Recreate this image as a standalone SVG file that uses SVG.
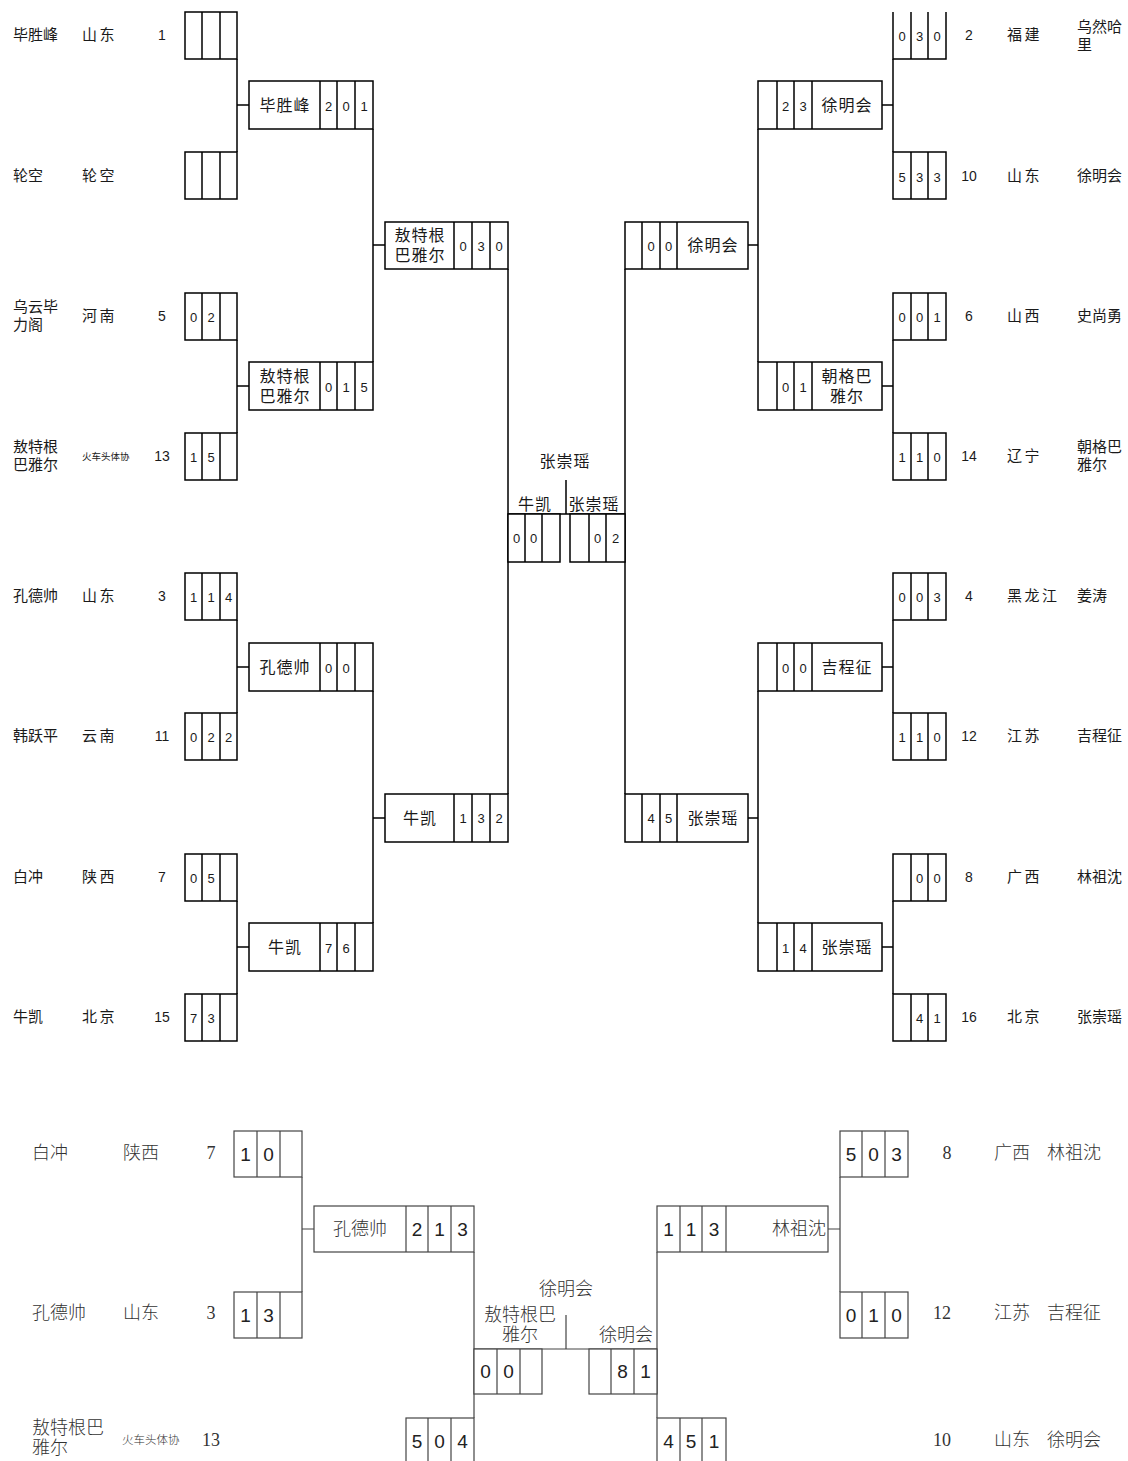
<svg xmlns="http://www.w3.org/2000/svg" width="1128" height="1461" viewBox="0 0 1128 1461">
<style>
.bx{fill:#fff;stroke:#000;stroke-width:1.5}
.dv{fill:none;stroke:#000;stroke-width:1.5}
.ln{fill:none;stroke:#000;stroke-width:1.5}
.t{font-family:"Noto Sans CJK SC","Liberation Sans",sans-serif;fill:#1a1a1a}
.nm{font-size:15px}
.pv{font-size:15px;letter-spacing:2.5px}
.sm{font-size:9.5px}
.rn{font-size:16px;letter-spacing:1px;text-anchor:middle}
.sd{font-family:"Liberation Sans",sans-serif;font-size:14px;text-anchor:middle;fill:#1a1a1a}
.dg{font-family:"Liberation Sans",sans-serif;font-size:13px;text-anchor:middle;fill:#1a1a1a}
.bx2{fill:#fff;stroke:#444;stroke-width:1.2}
.dv2{fill:none;stroke:#444;stroke-width:1.2}
.ln2{fill:none;stroke:#444;stroke-width:1.2}
.t2{font-family:"Liberation Serif","Noto Sans CJK SC",serif;font-size:18px;fill:#333;font-weight:300}
.sm2{font-size:11.5px}
.mid{text-anchor:middle}
.end{text-anchor:end}
.sd2{font-family:"Liberation Serif",serif;font-size:18px;fill:#333}
.dg2{font-family:"Liberation Sans",sans-serif;font-size:19px;text-anchor:middle;fill:#222}
</style>

<g id="connectors">
<path class="ln" d="M237 59V152M237 105H249M237 340V433M237 386H249M237 620V713M237 667H249M237 901V994M237 947H249"/>
<path class="ln" d="M373 129V362M373 245H385M373 691V923M373 818H385"/>
<path class="ln" d="M508 269V794M625 269V794M508 514H625M566 480V514"/>
<path class="ln" d="M893 59V152M882 105H893M893 340V433M882 386H893M893 620V713M882 667H893M893 901V994M882 947H893"/>
<path class="ln" d="M758 129V362M748 245H758M758 691V923M748 818H758"/>
<path class="ln2" d="M302 1177V1292M302 1229H314M474 1252V1418M657 1252V1418M474 1349H657M566 1315V1349M840 1177V1292M828 1229H840"/>
</g>

<!-- top-left round 1 -->
<g id="L1-1"><rect class="bx" x="185" y="12" width="52" height="47"/><path class="dv" d="M202 12V59M220 12V59"/>
<text class="t nm" x="13" y="40">毕胜峰</text><text class="t pv" x="82" y="40">山东</text><text class="sd" x="162" y="40">1</text></g>
<g id="L1-2"><rect class="bx" x="185" y="152" width="52" height="47"/><path class="dv" d="M202 152V199M220 152V199"/>
<text class="t nm" x="13" y="181">轮空</text><text class="t pv" x="82" y="181">轮空</text></g>
<g id="L1-3"><rect class="bx" x="185" y="293" width="52" height="47"/><path class="dv" d="M202 293V340M220 293V340"/>
<text class="t nm" x="13" y="312">乌云毕</text><text class="t nm" x="13" y="330">力阁</text><text class="t pv" x="82" y="321">河南</text><text class="sd" x="162" y="321">5</text>
<text class="dg" x="193.5" y="321.5">0</text><text class="dg" x="211" y="321.5">2</text></g>
<g id="L1-4"><rect class="bx" x="185" y="433" width="52" height="47"/><path class="dv" d="M202 433V480M220 433V480"/>
<text class="t nm" x="13" y="452">敖特根</text><text class="t nm" x="13" y="470">巴雅尔</text><text class="t sm" x="82" y="460">火车头体协</text><text class="sd" x="162" y="461">13</text>
<text class="dg" x="193.5" y="461.5">1</text><text class="dg" x="211" y="461.5">5</text></g>
<g id="L1-5"><rect class="bx" x="185" y="573" width="52" height="47"/><path class="dv" d="M202 573V620M220 573V620"/>
<text class="t nm" x="13" y="601">孔德帅</text><text class="t pv" x="82" y="601">山东</text><text class="sd" x="162" y="601">3</text>
<text class="dg" x="193.5" y="601.5">1</text><text class="dg" x="211" y="601.5">1</text><text class="dg" x="228.5" y="601.5">4</text></g>
<g id="L1-6"><rect class="bx" x="185" y="713" width="52" height="47"/><path class="dv" d="M202 713V760M220 713V760"/>
<text class="t nm" x="13" y="741">韩跃平</text><text class="t pv" x="82" y="741">云南</text><text class="sd" x="162" y="741">11</text>
<text class="dg" x="193.5" y="741.5">0</text><text class="dg" x="211" y="741.5">2</text><text class="dg" x="228.5" y="741.5">2</text></g>
<g id="L1-7"><rect class="bx" x="185" y="854" width="52" height="47"/><path class="dv" d="M202 854V901M220 854V901"/>
<text class="t nm" x="13" y="882">白冲</text><text class="t pv" x="82" y="882">陕西</text><text class="sd" x="162" y="882">7</text>
<text class="dg" x="193.5" y="882.5">0</text><text class="dg" x="211" y="882.5">5</text></g>
<g id="L1-8"><rect class="bx" x="185" y="994" width="52" height="47"/><path class="dv" d="M202 994V1041M220 994V1041"/>
<text class="t nm" x="13" y="1022">牛凯</text><text class="t pv" x="82" y="1022">北京</text><text class="sd" x="162" y="1022">15</text>
<text class="dg" x="193.5" y="1022.5">7</text><text class="dg" x="211" y="1022.5">3</text></g>

<!-- top-left round 2 -->
<g id="L2-1"><rect class="bx" x="249" y="81" width="124" height="48"/><path class="dv" d="M320 81V129M337 81V129M355 81V129"/>
<text class="t rn" x="285" y="111">毕胜峰</text><text class="dg" x="328.5" y="110.5">2</text><text class="dg" x="346" y="110.5">0</text><text class="dg" x="364" y="110.5">1</text></g>
<g id="L2-2"><rect class="bx" x="249" y="362" width="124" height="48"/><path class="dv" d="M320 362V410M337 362V410M355 362V410"/>
<text class="t rn" x="285" y="381.5">敖特根</text><text class="t rn" x="285" y="401.5">巴雅尔</text><text class="dg" x="328.5" y="391.5">0</text><text class="dg" x="346" y="391.5">1</text><text class="dg" x="364" y="391.5">5</text></g>
<g id="L2-3"><rect class="bx" x="249" y="643" width="124" height="48"/><path class="dv" d="M320 643V691M337 643V691M355 643V691"/>
<text class="t rn" x="285" y="673">孔德帅</text><text class="dg" x="328.5" y="672.5">0</text><text class="dg" x="346" y="672.5">0</text></g>
<g id="L2-4"><rect class="bx" x="249" y="923" width="124" height="48"/><path class="dv" d="M320 923V971M337 923V971M355 923V971"/>
<text class="t rn" x="285" y="953">牛凯</text><text class="dg" x="328.5" y="952.5">7</text><text class="dg" x="346" y="952.5">6</text></g>

<!-- top-left round 3 -->
<g id="L3-1"><rect class="bx" x="385" y="222" width="123" height="47"/><path class="dv" d="M454 222V269M472 222V269M490 222V269"/>
<text class="t rn" x="420" y="241">敖特根</text><text class="t rn" x="420" y="261">巴雅尔</text><text class="dg" x="463" y="250.5">0</text><text class="dg" x="481" y="250.5">3</text><text class="dg" x="499" y="250.5">0</text></g>
<g id="L3-2"><rect class="bx" x="385" y="794" width="123" height="48"/><path class="dv" d="M454 794V842M472 794V842M490 794V842"/>
<text class="t rn" x="420" y="824">牛凯</text><text class="dg" x="463" y="822.5">1</text><text class="dg" x="481" y="822.5">3</text><text class="dg" x="499" y="822.5">2</text></g>

<!-- top final -->
<g id="final-top">
<rect class="bx" x="508" y="514" width="52" height="48"/><path class="dv" d="M525 514V562M542 514V562"/>
<rect class="bx" x="570" y="514" width="55" height="48"/><path class="dv" d="M589 514V562M606 514V562"/>
<text class="dg" x="516.5" y="542.5">0</text><text class="dg" x="533.5" y="542.5">0</text>
<text class="dg" x="597.5" y="542.5">0</text><text class="dg" x="615.5" y="542.5">2</text>
<text class="t rn" x="535" y="510">牛凯</text><text class="t rn" x="594" y="510">张崇瑶</text><text class="t rn" x="565" y="467">张崇瑶</text>
</g>

<!-- top-right round 3 -->
<g id="R3-1"><rect class="bx" x="625" y="222" width="123" height="47"/><path class="dv" d="M642 222V269M660 222V269M677 222V269"/>
<text class="t rn" x="713" y="251">徐明会</text><text class="dg" x="651" y="250.5">0</text><text class="dg" x="668.5" y="250.5">0</text></g>
<g id="R3-2"><rect class="bx" x="625" y="794" width="123" height="48"/><path class="dv" d="M642 794V842M660 794V842M677 794V842"/>
<text class="t rn" x="713" y="824">张崇瑶</text><text class="dg" x="651" y="822.5">4</text><text class="dg" x="668.5" y="822.5">5</text></g>

<!-- top-right round 2 -->
<g id="R2-1"><rect class="bx" x="758" y="81" width="124" height="48"/><path class="dv" d="M777 81V129M794 81V129M812 81V129"/>
<text class="t rn" x="847" y="111">徐明会</text><text class="dg" x="785.5" y="110.5">2</text><text class="dg" x="803" y="110.5">3</text></g>
<g id="R2-2"><rect class="bx" x="758" y="362" width="124" height="48"/><path class="dv" d="M777 362V410M794 362V410M812 362V410"/>
<text class="t rn" x="847" y="381.5">朝格巴</text><text class="t rn" x="847" y="401.5">雅尔</text><text class="dg" x="785.5" y="391.5">0</text><text class="dg" x="803" y="391.5">1</text></g>
<g id="R2-3"><rect class="bx" x="758" y="643" width="124" height="48"/><path class="dv" d="M777 643V691M794 643V691M812 643V691"/>
<text class="t rn" x="847" y="673">吉程征</text><text class="dg" x="785.5" y="672.5">0</text><text class="dg" x="803" y="672.5">0</text></g>
<g id="R2-4"><rect class="bx" x="758" y="923" width="124" height="48"/><path class="dv" d="M777 923V971M794 923V971M812 923V971"/>
<text class="t rn" x="847" y="953">张崇瑶</text><text class="dg" x="785.5" y="952.5">1</text><text class="dg" x="803" y="952.5">4</text></g>

<!-- top-right round 1 -->
<g id="R1-1"><path class="dv" d="M893 12V59H946V12M911 12V59M928 12V59"/>
<text class="dg" x="902" y="40.5">0</text><text class="dg" x="919.5" y="40.5">3</text><text class="dg" x="937" y="40.5">0</text>
<text class="sd" x="969" y="40">2</text><text class="t pv" x="1007" y="40">福建</text><text class="t nm" x="1077" y="32">乌然哈</text><text class="t nm" x="1077" y="50">里</text></g>
<g id="R1-2"><rect class="bx" x="893" y="152" width="53" height="47"/><path class="dv" d="M911 152V199M928 152V199"/>
<text class="dg" x="902" y="181.5">5</text><text class="dg" x="919.5" y="181.5">3</text><text class="dg" x="937" y="181.5">3</text>
<text class="sd" x="969" y="181">10</text><text class="t pv" x="1007" y="181">山东</text><text class="t nm" x="1077" y="181">徐明会</text></g>
<g id="R1-3"><rect class="bx" x="893" y="293" width="53" height="47"/><path class="dv" d="M911 293V340M928 293V340"/>
<text class="dg" x="902" y="321.5">0</text><text class="dg" x="919.5" y="321.5">0</text><text class="dg" x="937" y="321.5">1</text>
<text class="sd" x="969" y="321">6</text><text class="t pv" x="1007" y="321">山西</text><text class="t nm" x="1077" y="321">史尚勇</text></g>
<g id="R1-4"><rect class="bx" x="893" y="433" width="53" height="47"/><path class="dv" d="M911 433V480M928 433V480"/>
<text class="dg" x="902" y="461.5">1</text><text class="dg" x="919.5" y="461.5">1</text><text class="dg" x="937" y="461.5">0</text>
<text class="sd" x="969" y="461">14</text><text class="t pv" x="1007" y="461">辽宁</text><text class="t nm" x="1077" y="452">朝格巴</text><text class="t nm" x="1077" y="470">雅尔</text></g>
<g id="R1-5"><rect class="bx" x="893" y="573" width="53" height="47"/><path class="dv" d="M911 573V620M928 573V620"/>
<text class="dg" x="902" y="601.5">0</text><text class="dg" x="919.5" y="601.5">0</text><text class="dg" x="937" y="601.5">3</text>
<text class="sd" x="969" y="601">4</text><text class="t pv" x="1007" y="601">黑龙江</text><text class="t nm" x="1077" y="601">姜涛</text></g>
<g id="R1-6"><rect class="bx" x="893" y="713" width="53" height="47"/><path class="dv" d="M911 713V760M928 713V760"/>
<text class="dg" x="902" y="741.5">1</text><text class="dg" x="919.5" y="741.5">1</text><text class="dg" x="937" y="741.5">0</text>
<text class="sd" x="969" y="741">12</text><text class="t pv" x="1007" y="741">江苏</text><text class="t nm" x="1077" y="741">吉程征</text></g>
<g id="R1-7"><rect class="bx" x="893" y="854" width="53" height="47"/><path class="dv" d="M911 854V901M928 854V901"/>
<text class="dg" x="919.5" y="882.5">0</text><text class="dg" x="937" y="882.5">0</text>
<text class="sd" x="969" y="882">8</text><text class="t pv" x="1007" y="882">广西</text><text class="t nm" x="1077" y="882">林祖沈</text></g>
<g id="R1-8"><rect class="bx" x="893" y="994" width="53" height="47"/><path class="dv" d="M911 994V1041M928 994V1041"/>
<text class="dg" x="919.5" y="1022.5">4</text><text class="dg" x="937" y="1022.5">1</text>
<text class="sd" x="969" y="1022">16</text><text class="t pv" x="1007" y="1022">北京</text><text class="t nm" x="1077" y="1022">张崇瑶</text></g>

<!-- bottom section -->
<g id="B-L1-1"><rect class="bx2" x="234" y="1131" width="68" height="46"/><path class="dv2" d="M257 1131V1177M280 1131V1177"/>
<text class="t2" x="32" y="1159">白冲</text><text class="t2" x="123" y="1159">陕西</text><text class="sd2 mid" x="211" y="1159">7</text>
<text class="dg2" x="245.5" y="1161">1</text><text class="dg2" x="268.5" y="1161">0</text></g>
<g id="B-L1-2"><rect class="bx2" x="234" y="1292" width="68" height="46"/><path class="dv2" d="M257 1292V1338M280 1292V1338"/>
<text class="t2" x="32" y="1319">孔德帅</text><text class="t2" x="123" y="1319">山东</text><text class="sd2 mid" x="211" y="1319">3</text>
<text class="dg2" x="245.5" y="1322">1</text><text class="dg2" x="268.5" y="1322">3</text></g>
<g id="B-L1-3"><rect class="bx2" x="406" y="1418" width="68" height="46"/><path class="dv2" d="M428 1418V1464M451 1418V1464"/>
<text class="t2" x="32" y="1434">敖特根巴</text><text class="t2" x="32" y="1454">雅尔</text><text class="t2 sm2" x="122" y="1444">火车头体协</text><text class="sd2 mid" x="211" y="1446">13</text>
<text class="dg2" x="417" y="1448">5</text><text class="dg2" x="439.5" y="1448">0</text><text class="dg2" x="462.5" y="1448">4</text></g>
<g id="B-L2"><rect class="bx2" x="314" y="1206" width="160" height="46"/><path class="dv2" d="M406 1206V1252M428 1206V1252M451 1206V1252"/>
<text class="t2 mid" x="360" y="1235">孔德帅</text><text class="dg2" x="417" y="1236">2</text><text class="dg2" x="439.5" y="1236">1</text><text class="dg2" x="462.5" y="1236">3</text></g>
<g id="B-final">
<rect class="bx2" x="474" y="1349" width="68" height="45"/><path class="dv2" d="M497 1349V1394M520 1349V1394"/>
<rect class="bx2" x="589" y="1349" width="68" height="45"/><path class="dv2" d="M611 1349V1394M634 1349V1394"/>
<text class="dg2" x="485.5" y="1378">0</text><text class="dg2" x="508.5" y="1378">0</text>
<text class="dg2" x="622.5" y="1378">8</text><text class="dg2" x="645.5" y="1378">1</text>
<text class="t2 mid" x="566" y="1295">徐明会</text><text class="t2 mid" x="520" y="1321">敖特根巴</text><text class="t2 mid" x="520" y="1341">雅尔</text><text class="t2 mid" x="626" y="1341">徐明会</text>
</g>
<g id="B-R2"><rect class="bx2" x="657" y="1206" width="171" height="46"/><path class="dv2" d="M680 1206V1252M702 1206V1252M726 1206V1252"/>
<text class="dg2" x="668.5" y="1236">1</text><text class="dg2" x="691" y="1236">1</text><text class="dg2" x="714" y="1236">3</text><text class="t2 end" x="826" y="1235">林祖沈</text></g>
<g id="B-R1-3"><rect class="bx2" x="657" y="1418" width="69" height="46"/><path class="dv2" d="M680 1418V1464M702 1418V1464"/>
<text class="dg2" x="668.5" y="1448">4</text><text class="dg2" x="691" y="1448">5</text><text class="dg2" x="714" y="1448">1</text>
<text class="sd2 mid" x="942" y="1446">10</text><text class="t2" x="994" y="1446">山东</text><text class="t2" x="1047" y="1446">徐明会</text></g>
<g id="B-R1-1"><rect class="bx2" x="840" y="1131" width="68" height="46"/><path class="dv2" d="M862 1131V1177M885 1131V1177"/>
<text class="dg2" x="851" y="1161">5</text><text class="dg2" x="873.5" y="1161">0</text><text class="dg2" x="896.5" y="1161">3</text>
<text class="sd2 mid" x="947" y="1159">8</text><text class="t2" x="994" y="1159">广西</text><text class="t2" x="1047" y="1159">林祖沈</text></g>
<g id="B-R1-2"><rect class="bx2" x="840" y="1292" width="68" height="46"/><path class="dv2" d="M862 1292V1338M885 1292V1338"/>
<text class="dg2" x="851" y="1322">0</text><text class="dg2" x="873.5" y="1322">1</text><text class="dg2" x="896.5" y="1322">0</text>
<text class="sd2 mid" x="942" y="1319">12</text><text class="t2" x="994" y="1319">江苏</text><text class="t2" x="1047" y="1319">吉程征</text></g>
</svg>
